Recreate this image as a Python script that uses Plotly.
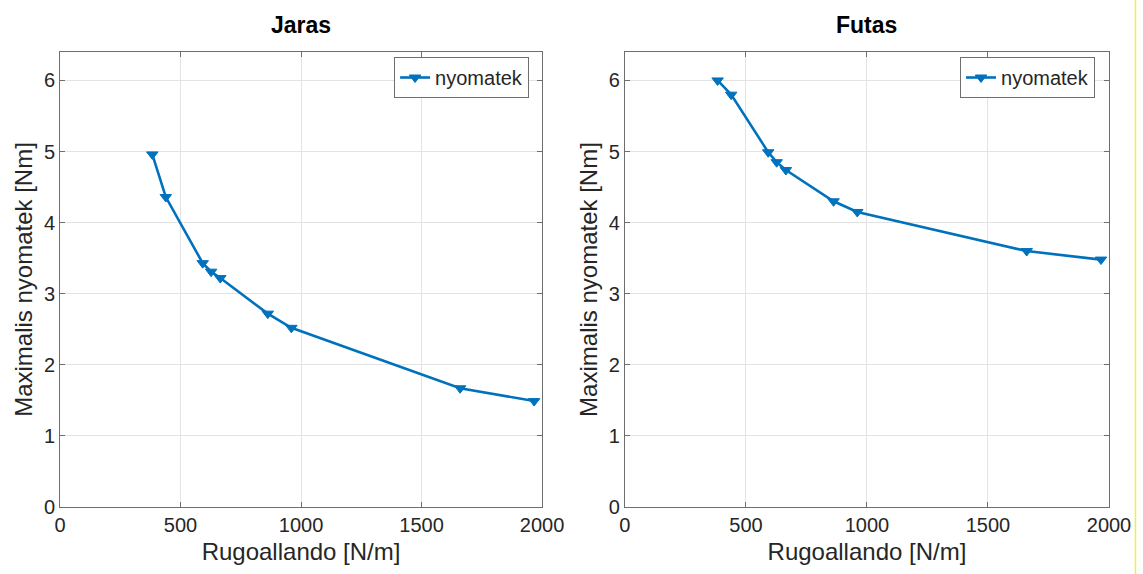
import plotly.graph_objects as go
from plotly.subplots import make_subplots

# Spring stiffness [N/m] shared by both experiments
rugoallando = [383, 439, 592, 627, 665, 862, 960, 1660, 1967]
# Maximum torque [Nm] for walking (Jaras) and running (Futas)
nyomatek_jaras = [4.96, 4.36, 3.43, 3.31, 3.22, 2.72, 2.52, 1.67, 1.49]
nyomatek_futas = [6.00, 5.80, 4.99, 4.85, 4.74, 4.30, 4.15, 3.60, 3.48]

titles = ["Jaras", "Futas"]
x_ticks = [0, 500, 1000, 1500, 2000]
y_ticks = [0, 1, 2, 3, 4, 5, 6]

BLUE = "#0072BD"
FONT = "Liberation Sans, Arial, sans-serif"
TEXT = "#262626"

W, H = 1143, 574
L, R, T, B = 60, 32, 52, 67
plot_w = W - L - R
plot_h = H - T - B

fig = make_subplots(rows=1, cols=2)

series = [nyomatek_jaras, nyomatek_futas]
legends = ["legend", "legend2"]
for i, (ys, lg) in enumerate(zip(series, legends), start=1):
    fig.add_trace(
        go.Scatter(
            x=rugoallando, y=ys, mode="lines+markers", name="nyomatek",
            line=dict(color=BLUE, width=2.6),
            marker=dict(symbol="triangle-down", size=10, color=BLUE,
                        line=dict(color=BLUE, width=1)),
            legend=lg, showlegend=True,
        ),
        row=1, col=i,
    )

left_dom = [0, (543 - L) / plot_w]
right_dom = [(626 - L) / plot_w, 1]

axis_common = dict(
    showline=True, linecolor="#6e6e6e", linewidth=1, mirror="ticks",
    ticks="inside", ticklen=5, tickcolor="#6e6e6e",
    showgrid=True, gridcolor="#e3e3e3", gridwidth=1, zeroline=False,
    tickfont=dict(family=FONT, size=20, color=TEXT),
)

for i, dom in zip([1, 2], [left_dom, right_dom]):
    fig.update_xaxes(
        domain=dom, range=[0, 2000], tickvals=x_ticks,
        title=dict(text="Rugoallando [N/m]", font=dict(family=FONT, size=24, color=TEXT), standoff=8),
        row=1, col=i, **axis_common,
    )
    fig.update_yaxes(
        range=[0, 6.4], tickvals=y_ticks,
        title=dict(text="Maximalis nyomatek [Nm]", font=dict(family=FONT, size=24, color=TEXT), standoff=4),
        row=1, col=i, **axis_common,
    )

for t, dom in zip(titles, [left_dom, right_dom]):
    fig.add_annotation(
        text=f"<b>{t}</b>", x=(dom[0] + dom[1]) / 2, y=1 + 27 / plot_h,
        xref="paper", yref="paper", showarrow=False,
        font=dict(family=FONT, size=23, color="#000000"),
        xanchor="center", yanchor="middle",
    )

legend_style = dict(
    xanchor="right", yanchor="top", bgcolor="white",
    bordercolor="#6e6e6e", borderwidth=1,
    font=dict(family=FONT, size=20, color=TEXT),
    tracegroupgap=0,
)
fig.update_layout(
    legend=dict(x=(530 - L) / plot_w, y=1 - 5 / plot_h, **legend_style),
    legend2=dict(x=(1097 - L) / plot_w, y=1 - 5 / plot_h, **legend_style),
)

# thin yellow rule along the right edge
fig.add_shape(
    type="line", xref="paper", yref="paper",
    x0=(1137.5 - L) / plot_w, x1=(1137.5 - L) / plot_w,
    y0=-B / plot_h - 0.01, y1=1 + T / plot_h + 0.01,
    line=dict(color="#f5ef3a", width=1.5),
)

fig.update_layout(
    width=W, height=H,
    margin=dict(l=L, r=R, t=T, b=B),
    paper_bgcolor="white", plot_bgcolor="white",
    font=dict(family=FONT, color=TEXT),
)

fig.write_html("out.html")
